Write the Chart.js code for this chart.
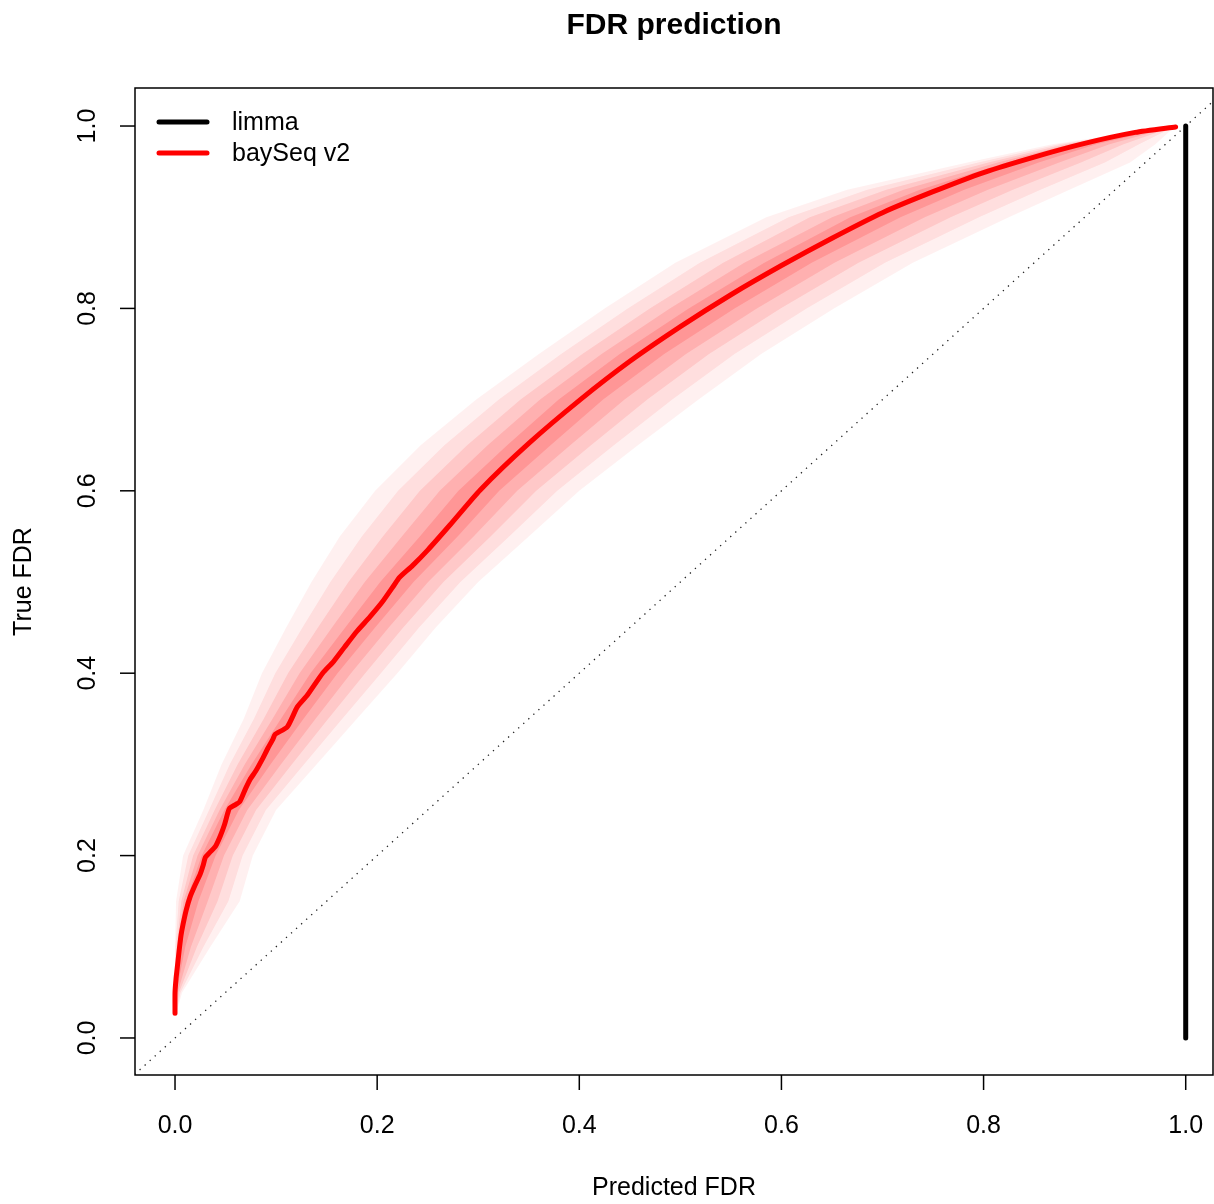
<!DOCTYPE html>
<html lang="en">
<head>
  <meta charset="UTF-8" />
  <title>FDR prediction</title>
  <script src="https://cdn.jsdelivr.net/npm/chart.js"></script>
  <style>
    body { margin: 0; background: white; }
    #wrap { width: 1214px; height: 1204px; position: relative; }
  </style>
</head>
<body>
  <div id="wrap"><canvas id="fdrChart"></canvas></div>

  <script>
    // axis ticks
    const xTicks = [0, 0.2, 0.4, 0.6, 0.8, 1.0];
    const yTicks = [0, 0.2, 0.4, 0.6, 0.8, 1.0];

    // baySeq v2 mean curve (predicted FDR, true FDR)
    const lineX = [0, 0.0, 0.001, 0.002, 0.004, 0.006, 0.008, 0.011, 0.015, 0.02, 0.025, 0.028, 0.03, 0.034, 0.04, 0.045, 0.049, 0.052,
      0.054, 0.06, 0.064, 0.07, 0.074, 0.08, 0.086, 0.092, 0.097, 0.099, 0.111, 0.121, 0.131, 0.146, 0.157, 0.168, 0.18, 0.193,
      0.205, 0.217, 0.222, 0.235, 0.25, 0.272, 0.302, 0.35, 0.401, 0.45, 0.5, 0.55, 0.6, 0.65, 0.7, 0.75, 0.8, 0.85, 0.9, 0.95, 0.99];
    const lineY = [0.027, 0.05, 0.065, 0.075, 0.095, 0.113, 0.125, 0.14, 0.155, 0.168, 0.18, 0.19, 0.198, 0.203, 0.21, 0.222, 0.234, 0.246,
      0.252, 0.256, 0.259, 0.274, 0.283, 0.293, 0.305, 0.318, 0.328, 0.333, 0.341, 0.363, 0.376, 0.4, 0.413, 0.429, 0.446, 0.462,
      0.478, 0.497, 0.505, 0.518, 0.535, 0.5625, 0.601, 0.652, 0.70, 0.742, 0.78, 0.815, 0.847, 0.877, 0.905, 0.928, 0.949, 0.966, 0.981, 0.993, 0.999];

    // limma
    const limmaX = [1, 1];
    const limmaY = [0, 1];

    // uncertainty bands: left/right predicted FDR at each true FDR level (outer -> inner)
    const bandY = [0.03, 0.05, 0.10, 0.15, 0.20, 0.25, 0.30, 0.35, 0.40, 0.45, 0.50, 0.55, 0.60, 0.65, 0.70, 0.75, 0.80, 0.85, 0.90, 0.93, 0.96, 0.98, 1.00];
    const band1L = [0, 0, 0, 0.001, 0.008, 0.028, 0.046, 0.068, 0.086, 0.11, 0.135, 0.163, 0.198, 0.243, 0.298, 0.36, 0.425, 0.495, 0.585, 0.665, 0.784, 0.868, 0.99];
    const band1R = [0.002, 0.007, 0.035, 0.064, 0.077, 0.10, 0.14, 0.18, 0.22, 0.258, 0.30, 0.35, 0.40, 0.458, 0.518, 0.58, 0.652, 0.73, 0.825, 0.885, 0.945, 0.97, 0.99];
    const band2L = [0, 0, 0.0009, 0.0036, 0.0131, 0.0337, 0.0541, 0.0781, 0.0992, 0.1261, 0.1537, 0.1848, 0.2207, 0.2665, 0.3204, 0.382, 0.4479, 0.5192, 0.607, 0.6848, 0.7946, 0.8744, 0.99];
    const band2R = [0.0016, 0.0055, 0.0282, 0.0528, 0.0669, 0.0899, 0.1275, 0.1655, 0.2037, 0.2415, 0.2824, 0.3306, 0.3782, 0.4342, 0.492, 0.5536, 0.6249, 0.7025, 0.7955, 0.8564, 0.9201, 0.9539, 0.99];
    const band3L = [0, 0, 0.0017, 0.0062, 0.0179, 0.0392, 0.0619, 0.0878, 0.1118, 0.1414, 0.1716, 0.2056, 0.2423, 0.289, 0.3419, 0.403, 0.4697, 0.5423, 0.628, 0.7037, 0.8046, 0.8805, 0.99];
    const band3R = [0.0011, 0.004, 0.0217, 0.0421, 0.0572, 0.0802, 0.1155, 0.1516, 0.1882, 0.2258, 0.2656, 0.3122, 0.3574, 0.4116, 0.4673, 0.5284, 0.5991, 0.6763, 0.7674, 0.8291, 0.8964, 0.9386, 0.99];
    const band4L = [0, 0, 0.0025, 0.0084, 0.0223, 0.0441, 0.0689, 0.0965, 0.1232, 0.1553, 0.1877, 0.2244, 0.2619, 0.3093, 0.3612, 0.422, 0.4895, 0.5632, 0.65, 0.7208, 0.8138, 0.886, 0.99];
    const band4R = [0.0008, 0.0027, 0.0158, 0.0324, 0.0485, 0.0715, 0.1047, 0.1391, 0.1741, 0.2115, 0.2504, 0.2954, 0.3386, 0.391, 0.4448, 0.5056, 0.5757, 0.6525, 0.7419, 0.8044, 0.8749, 0.9247, 0.99];
    const band5L = [0, 0, 0.0032, 0.0106, 0.0264, 0.0488, 0.0756, 0.1048, 0.134, 0.1684, 0.203, 0.2422, 0.2804, 0.3286, 0.3796, 0.44, 0.5082, 0.583, 0.668, 0.737, 0.8224, 0.8912, 0.99];
    const band5R = [0.0004, 0.0014, 0.0102, 0.0232, 0.0402, 0.0632, 0.0944, 0.1272, 0.1608, 0.198, 0.236, 0.2796, 0.3208, 0.3716, 0.4236, 0.484, 0.5536, 0.63, 0.7178, 0.781, 0.8546, 0.9116, 0.99];

    const bands = [
      { L: band1L, R: band1R, a: 0.06 },
      { L: band2L, R: band2R, a: 0.08 },
      { L: band3L, R: band3R, a: 0.10 },
      { L: band4L, R: band4R, a: 0.12 },
      { L: band5L, R: band5R, a: 0.15 }
    ];

    const FONT = '"Liberation Sans", Arial, Helvetica, sans-serif';

    function polygon(L, R) {
      const left = L.map((x, i) => ({ x: x, y: bandY[i] }));
      const right = R.map((x, i) => ({ x: x, y: bandY[i] })).reverse();
      return left.concat(right);
    }

    const datasets = [];
    bands.forEach((b, i) => {
      datasets.push({
        data: polygon(b.L, b.R),
        backgroundColor: `rgba(255,0,0,${b.a})`,
        borderWidth: 0,
        pointRadius: 0,
        fill: 'shape',
        order: 10 - i
      });
    });
    datasets.push({
      data: [{ x: -0.1, y: -0.1 }, { x: 1.1, y: 1.1 }],
      borderColor: '#222',
      borderWidth: 1.3,
      borderDash: [1.3, 5.5],
      pointRadius: 0,
      fill: false,
      order: 3
    });
    datasets.push({
      data: lineX.map((x, i) => ({ x: x, y: lineY[i] })),
      borderColor: '#ff0000',
      borderWidth: 5,
      borderCapStyle: 'round',
      borderJoinStyle: 'round',
      tension: 0.2,
      pointRadius: 0,
      fill: false,
      order: 1
    });
    datasets.push({
      data: limmaX.map((x, i) => ({ x: x, y: limmaY[i] })),
      borderColor: '#000000',
      borderWidth: 5,
      borderCapStyle: 'round',
      pointRadius: 0,
      fill: false,
      order: 0
    });

    // R-style box, axes, labels, title and legend
    const rAxes = {
      id: 'rAxes',
      afterDraw(chart) {
        const ctx = chart.ctx;
        const a = chart.chartArea;
        const xs = chart.scales.x, ys = chart.scales.y;
        ctx.save();
        ctx.strokeStyle = '#000';
        ctx.fillStyle = '#000';
        ctx.lineWidth = 1.5;
        ctx.strokeRect(a.left, a.top, a.right - a.left, a.bottom - a.top);

        ctx.font = '25px ' + FONT;
        ctx.textAlign = 'center';
        ctx.textBaseline = 'middle';
        xTicks.forEach(v => {
          const px = xs.getPixelForValue(v);
          ctx.beginPath();
          ctx.moveTo(px, a.bottom);
          ctx.lineTo(px, a.bottom + 15);
          ctx.stroke();
          ctx.fillText(v.toFixed(1), px, 1126);
        });
        yTicks.forEach(v => {
          const py = ys.getPixelForValue(v);
          ctx.beginPath();
          ctx.moveTo(a.left, py);
          ctx.lineTo(a.left - 15, py);
          ctx.stroke();
          ctx.save();
          ctx.translate(88, py);
          ctx.rotate(-Math.PI / 2);
          ctx.fillText(v.toFixed(1), 0, 0);
          ctx.restore();
        });

        // axis titles
        ctx.fillText('Predicted FDR', (a.left + a.right) / 2, 1188);
        ctx.save();
        ctx.translate(24, (a.top + a.bottom) / 2);
        ctx.rotate(-Math.PI / 2);
        ctx.fillText('True FDR', 0, 0);
        ctx.restore();

        // title
        ctx.font = 'bold 30px ' + FONT;
        ctx.fillText('FDR prediction', (a.left + a.right) / 2, 26);

        // legend
        const legend = [['limma', '#000000', 122], ['baySeq v2', '#ff0000', 153]];
        ctx.font = '25px ' + FONT;
        ctx.textAlign = 'left';
        ctx.lineCap = 'round';
        legend.forEach(([label, col, y]) => {
          ctx.strokeStyle = col;
          ctx.lineWidth = 5;
          ctx.beginPath();
          ctx.moveTo(159, y);
          ctx.lineTo(207, y);
          ctx.stroke();
          ctx.fillText(label, 232, y + 1);
        });
        ctx.restore();
      }
    };

    new Chart(document.getElementById('fdrChart'), {
      type: 'line',
      data: { datasets: datasets },
      options: {
        responsive: true,
        maintainAspectRatio: false,
        animation: false,
        layout: { padding: { left: 135, right: 1, top: 88, bottom: 129 } },
        plugins: {
          legend: { display: false },
          tooltip: { enabled: false },
          title: { display: false }
        },
        elements: { line: { tension: 0 } },
        scales: {
          x: { type: 'linear', min: -0.0396, max: 1.027, display: false },
          y: { type: 'linear', min: -0.0406, max: 1.0417, display: false }
        }
      },
      plugins: [rAxes]
    });
  </script>
</body>
</html>
